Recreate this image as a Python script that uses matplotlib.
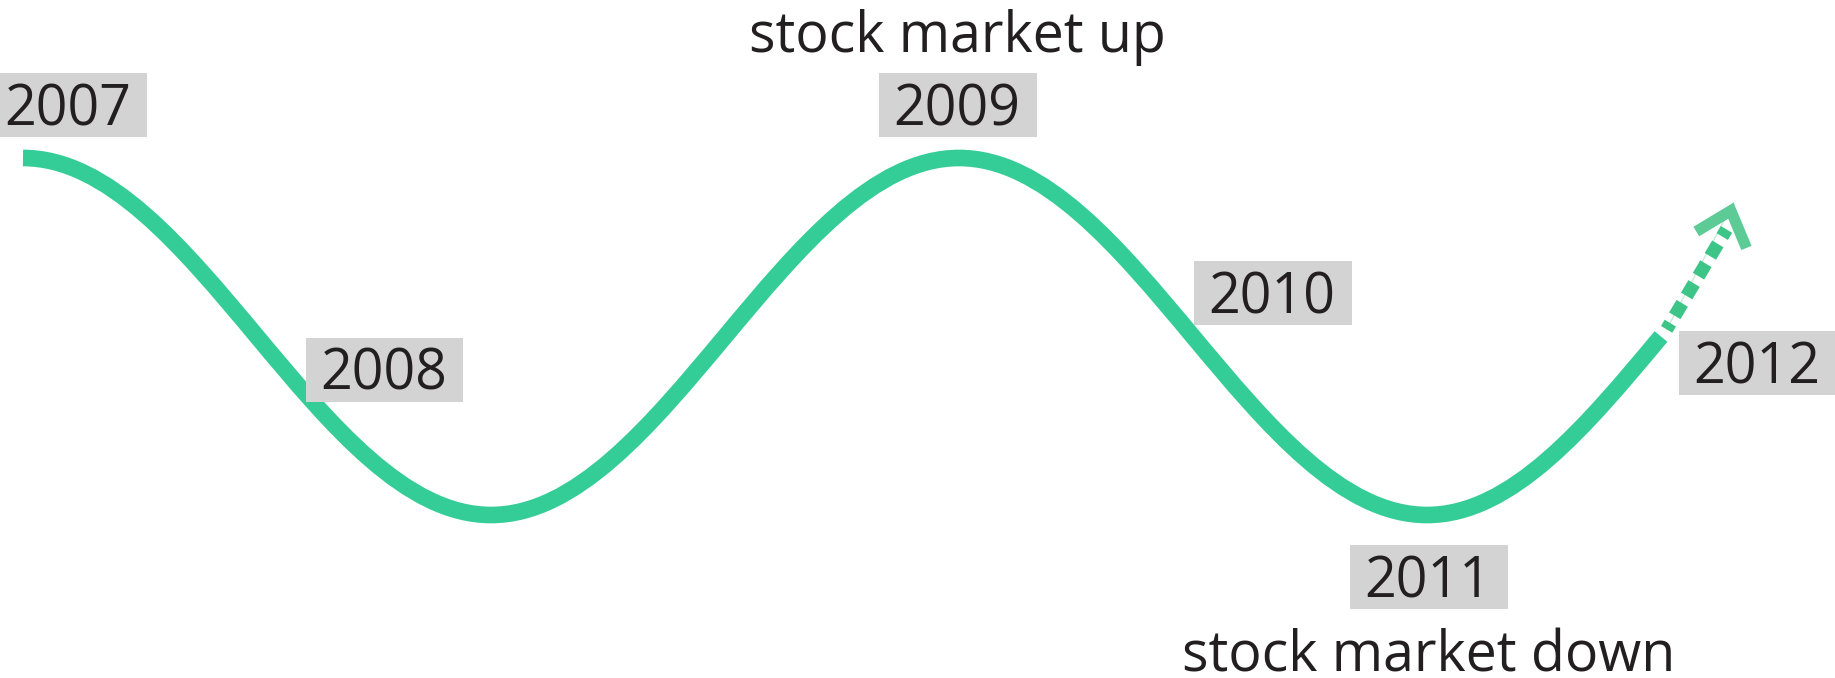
import matplotlib
matplotlib.use("Agg")
import matplotlib.pyplot as plt
from matplotlib.path import Path
from matplotlib.patches import PathPatch, Rectangle
from matplotlib.bezier import split_de_casteljau

plt.rcParams['font.family'] = ['Open Sans', 'DejaVu Sans']

# turning points of the market wave (x = half-cycles, level 1 = high, 0 = low)
wave_x = [0, 1, 2, 3, 4]
wave_level = [1, 0, 1, 0, 1]
solid_part = 0.5          # share of the last half-cycle drawn solid

# dotted outlook toward 2012
trend_x = [3.512, 3.64]
trend_level = [0.52, 0.80]
arrow_tip = (3.655, 0.875)

years = ['2007', '2008', '2009', '2010', '2011', '2012']
captions = ['stock market up', 'stock market down']

# label layout in output pixels (centre x, baseline y, top down)
year_pos = [(68, 125), (384, 390), (957, 125), (1272, 313), (1428, 597), (1757, 383)]
caption_pos = [(957, 52), (1429, 672)]

W, H = 1835, 678
wave_col = '#35cd97'
dash_col = '#3dc487'
head_col = '#5ccb95'
box_col = '#d3d3d3'
text_col = '#231f20'

fig = plt.figure(figsize=(W / 100, H / 100), dpi=100)
ax = fig.add_axes([0, 0, 1, 1])
ax.set_xlim(-23 / 468, (W - 23) / 468)
ax.set_ylim(-163 / 357, (H - 163) / 357)
ax.axis('off')

# build the wave from cubic beziers with flat tangents at the turning points
k = 0.3634
verts = [(wave_x[0], wave_level[0])]
codes = [Path.MOVETO]
n = len(wave_x) - 1
for i in range(n):
    x0, y0 = wave_x[i], wave_level[i]
    x1, y1 = wave_x[i + 1], wave_level[i + 1]
    seg = [(x0, y0), (x0 + k * (x1 - x0), y0), (x1 - k * (x1 - x0), y1), (x1, y1)]
    if i == n - 1:
        seg, _ = split_de_casteljau(seg, solid_part)
    verts += [tuple(p) for p in seg[1:]]
    codes += [Path.CURVE4] * 3
ax.add_patch(PathPatch(Path(verts, codes), fill=False, lw=12, ec=wave_col,
                       capstyle='butt', zorder=2))

# dotted projection + open arrow head
ax.plot([trend_x[0], arrow_tip[0]], [trend_level[0], arrow_tip[1]],
        color=head_col, lw=1, alpha=0.35, zorder=2)
ax.plot(trend_x, trend_level, color=dash_col, lw=9.5,
        linestyle=(0.55, (1.1, 0.65)), dash_capstyle='butt', zorder=2)
ax.annotate('', xy=arrow_tip, xytext=(arrow_tip[0] - 0.01, arrow_tip[1] - 0.04),
            arrowprops=dict(arrowstyle='->,head_length=1.1,head_width=0.95',
                            mutation_scale=20, lw=8, color=head_col,
                            shrinkA=0, shrinkB=0, joinstyle='miter',
                            capstyle='butt'), zorder=3)

# label layer in pixel space
lab = fig.add_axes([0, 0, 1, 1])
lab.set_xlim(0, W)
lab.set_ylim(H, 0)
lab.axis('off')

txts = []
for yr, (cx, by) in zip(years, year_pos):
    t = lab.text(cx, by, yr, ha='center', va='baseline', fontsize=40,
                 color=text_col, zorder=5)
    txts.append((t, by))
for cap, (cx, by) in zip(captions, caption_pos):
    lab.text(cx, by, cap, ha='center', va='baseline', fontsize=40,
             color=text_col, zorder=5)

fig.canvas.draw()
r = fig.canvas.get_renderer()
for t, by in txts:
    bb = t.get_window_extent(r)
    x0, x1 = bb.x0 - 15, bb.x1 + 16
    lab.add_patch(Rectangle((x0, by - 52), x1 - x0, 64, fc=box_col, ec='none',
                            zorder=4))

fig.savefig('out.png', dpi=100)
